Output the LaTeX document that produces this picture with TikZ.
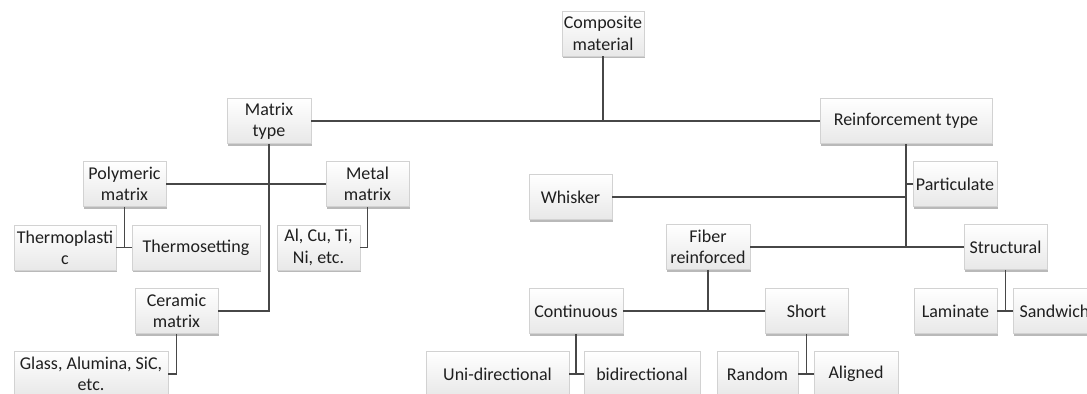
\documentclass[tikz,border=0pt]{standalone}
\usepackage{fontspec}
\setmainfont{Carlito}
\usetikzlibrary{shadows}

\begin{document}
\begin{tikzpicture}[x=0.75pt, y=-0.75pt,
                    box/.style={rectangle, draw=gray!35, line width=0.4pt, top color=white, bottom color=gray!18,
                                drop shadow={shadow xshift=0.6pt, shadow yshift=-1.5pt, opacity=0.55, fill=gray},
                                align=center, text=black!88, inner sep=1pt, minimum height=34pt,
                                font=\fontsize{13.5}{16}\selectfont},
                    wd/.style={minimum width={#1*0.75pt}},
                    link/.style={draw=black!72, line width=1pt}]
                    \useasboundingbox (0, 0) rectangle (1087, 393);

                    \node [box, wd=82] (comp) at (603, 33.5) {Composite\\material};
                    \node [box, wd=84] (mtype) at (269, 121) {Matrix\\type};
                    \node [box, wd=172] (rtype) at (906, 121) {Reinforcement type};

                    \node [box, wd=83] (poly) at (124.5, 184) {Polymeric\\matrix};
                    \node [box, wd=83] (metal) at (367.5, 184) {Metal\\matrix};
                    \node [box, wd=102] (tplastic) at (65, 247.5) {Thermoplasti\\c};
                    \node [box, wd=128] (tsetting) at (196, 247.5) {Thermosetting};
                    \node [box, wd=83] (alcu) at (318.5, 247.5) {Al, Cu, Ti,\\Ni, etc.};
                    \node [box, wd=83] (ceramic) at (176.5, 311) {Ceramic\\matrix};
                    \node [box, wd=154] (glass) at (91, 374) {Glass, Alumina, SiC,\\etc.};

                    \node [box, wd=84] (partic) at (955, 184) {Particulate};
                    \node [box, wd=83] (whisker) at (570.5, 197) {Whisker};
                    \node [box, wd=84] (fiber) at (708, 247) {Fiber\\reinforced};
                    \node [box, wd=83] (struct) at (1005.5, 247) {Structural};
                    \node [box, wd=94] (cont) at (576, 311) {Continuous};
                    \node [box, wd=83] (short) at (806.5, 311) {Short};
                    \node [box, wd=83] (lam) at (955.5, 311) {Laminate};
                    \node [box, wd=83] (sand) at (1054.5, 311) {Sandwich};
                    \node [box, wd=143] (uni) at (497.5, 374) {Uni-directional};
                    \node [box, wd=116] (bi) at (642, 374) {bidirectional};
                    \node [box, wd=81] (random) at (757.5, 374) {Random};
                    \node [box, wd=84] (aligned) at (856, 374) {Aligned};

                    \draw [link](comp.south) -- (comp.south |- mtype.east);
                    \draw [link](mtype.east) -- (rtype.west);

                    \draw [link](mtype.south) |- (ceramic.east);
                    \draw [link](poly.east) -- (metal.west);
                    \draw [link](poly.south) -- (poly.south |- tplastic.east);
                    \draw [link](tplastic.east) -- (tsetting.west);
                    \draw [link](metal.south) |- (alcu.east);
                    \draw [link](ceramic.south) |- (glass.east);

                    \draw [link](rtype.south) -- (rtype.south |- fiber.east);
                    \draw [link](rtype.south |- partic.west) -- (partic.west);
                    \draw [link](whisker.east) -- (rtype.south |- whisker.east);
                    \draw [link](fiber.east) -- (struct.west);
                    \draw [link](fiber.south) -- (fiber.south |- cont.east);
                    \draw [link](cont.east) -- (short.west);
                    \draw [link](struct.south) -- (struct.south |- lam.east);
                    \draw [link](lam.east) -- (sand.west);
                    \draw [link](cont.south) -- (cont.south |- uni.east);
                    \draw [link](uni.east) -- (bi.west);
                    \draw [link](short.south) -- (short.south |- random.east);
                    \draw [link](random.east) -- (aligned.west);
                    \end{tikzpicture}
\end{document}
